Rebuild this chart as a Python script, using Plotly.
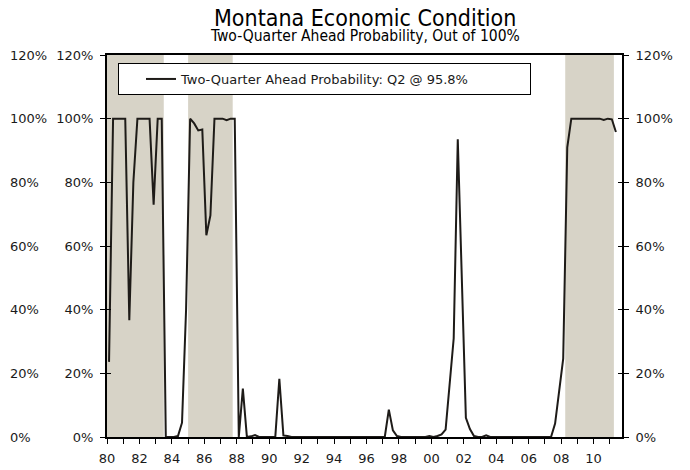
import numpy as np
import plotly.graph_objects as go

# quarterly probability (%), 1980Q1 .. 2011Q2
start_year = 1980
prob = [
    23.6, 100, 100, 100, 100, 36.7, 80, 100,
    100, 100, 100, 73, 100, 100, 0, 0,
    0, 0.3, 4.5, 40, 100, 98.5, 96.3, 96.6,
    63.4, 69.6, 100, 100, 100, 99.5, 100, 100,
    0, 15.2, 0, 0.2, 0.6, 0, 0, 0,
    0, 0, 18.3, 0.5, 0.3, 0, 0, 0,
    0, 0, 0, 0, 0, 0, 0, 0,
    0, 0, 0, 0, 0, 0, 0, 0,
    0, 0, 0, 0, 0, 8.6, 2.1, 0.3,
    0, 0, 0, 0, 0, 0, 0, 0.3,
    0, 0.3, 0.8, 2.3, 16.5, 31, 93.5, 48,
    6, 2.5, 0.3, 0, 0, 0.5, 0, 0,
    0, 0, 0, 0, 0, 0, 0, 0,
    0, 0, 0, 0, 0, 0, 4.2, 14,
    24.6, 91, 100, 100, 100, 100, 100, 100,
    100, 100, 99.6, 100, 99.8, 95.8,
]
series_name = "Two-Quarter Ahead Probability: Q2 @ 95.8%"

# shaded recession periods
shade_start = [1980.0, 1985.0, 2008.25]
shade_end = [1983.5, 1987.75, 2011.25]

years = list(range(1980, 2012))
year_labels = [f"{y % 100:02d}" if y % 2 == 0 else "" for y in years]
pct_ticks = [0, 20, 40, 60, 80, 100, 120]
pct_labels = [f"{v}%" for v in pct_ticks]

x = start_year + 0.125 + 0.25 * np.arange(len(prob))

# the page body adds an 8px margin, so the figure is 8px smaller
OFF = 8
W, H = 690 - OFF, 470 - OFF
L, R, T = 107 - OFF, 622 - OFF, 55 - OFF
B = H - (437 - OFF)
PH = H - T - B
tick_font = dict(family="DejaVu Sans", size=13, color="#1a1a1a")
shade = "#D7D3C7"

fig = go.Figure()
fig.add_trace(go.Scatter(
    x=x, y=prob, mode="lines", name=series_name,
    line=dict(color="#1e1b18", width=2),
))
# empty traces so the extra y axes get drawn
for ax in ["y2", "y3", "y4", "y5"]:
    fig.add_trace(go.Scatter(x=[None], y=[None], yaxis=ax, showlegend=False, hoverinfo="skip"))

for s0, s1 in zip(shade_start, shade_end):
    fig.add_shape(type="rect", xref="x", yref="y domain", x0=s0, x1=s1, y0=0, y1=1,
                  fillcolor=shade, line_width=0, layer="below")

yax = dict(range=[0, 120], tickvals=pct_ticks, ticktext=pct_labels, showgrid=False,
           zeroline=False, tickfont=tick_font, automargin=False)

fig.update_layout(
    width=W, height=H,
    margin=dict(l=0, r=0, t=T, b=B),
    plot_bgcolor="white", paper_bgcolor="white",
    xaxis=dict(domain=[L / W, R / W], range=[1980, 2011.75], tickvals=years,
               ticktext=year_labels, ticks="outside", ticklen=5, tickcolor="black",
               showline=True, linecolor="black", linewidth=1.5, mirror=True,
               showgrid=False, zeroline=False, tickfont=tick_font, ticklabelstandoff=4,
               automargin=False),
    yaxis=dict(**yax, side="left", ticks="outside", ticklen=5, tickcolor="black",
               showline=True, linecolor="black", linewidth=2, ticklabelstandoff=4),
    yaxis2=dict(**yax, overlaying="y", anchor="x", side="right", ticks="outside",
                ticklen=5, tickcolor="black", showline=True, linecolor="black",
                linewidth=2, ticklabelstandoff=4),
    yaxis3=dict(**yax, overlaying="y", anchor="free", position=0, side="right",
                ticks="", showline=False, ticklabelstandoff=1),
    yaxis4=dict(range=[0, 120], tickvals=pct_ticks, overlaying="y", anchor="x", side="left",
                ticks="inside", ticklen=4, tickcolor="black", showticklabels=False,
                showgrid=False, zeroline=False, automargin=False),
    yaxis5=dict(range=[0, 120], tickvals=pct_ticks, overlaying="y", anchor="x", side="right",
                ticks="inside", ticklen=4, tickcolor="black", showticklabels=False,
                showgrid=False, zeroline=False, automargin=False),
    showlegend=True,
    legend=dict(x=(118 - OFF) / W, y=1 - 8 / PH, xanchor="left", yanchor="top",
                orientation="h", bgcolor="white", bordercolor="black", borderwidth=1,
                font=dict(family="DejaVu Sans", size=13, color="#1a1a1a"),
                indentation=22, entrywidth=344, entrywidthmode="pixels"),
)

cx = (L + R) / 2 / W
fig.add_annotation(text="Montana Economic Condition", xref="paper", yref="paper",
                   x=cx, y=1 + (T - (17.5 - OFF)) / PH, xanchor="center", yanchor="middle",
                   showarrow=False,
                   font=dict(family="DejaVu Sans Condensed", size=23, color="black"))
fig.add_annotation(text="Two-Quarter Ahead Probability, Out of 100%", xref="paper", yref="paper",
                   x=cx, y=1 + (T - (36 - OFF)) / PH, xanchor="center", yanchor="middle",
                   showarrow=False,
                   font=dict(family="DejaVu Sans Condensed", size=15.5, color="black"))

fig.write_html("out.html")
